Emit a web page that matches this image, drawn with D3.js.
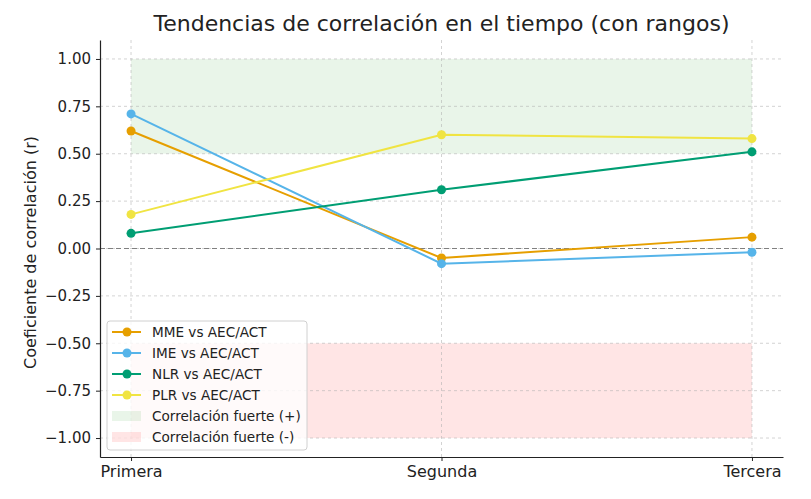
<!DOCTYPE html>
<html>
<head>
<meta charset="utf-8">
<script src="https://cdn.jsdelivr.net/npm/d3@7"></script>
<style>
  body { margin: 0; background: #fff; }
  text { font-family: "DejaVu Sans", sans-serif; }
</style>
</head>
<body>
<div id="chart"></div>
<script>
var categories = ["Primera", "Segunda", "Tercera"];
var seriesNames = ["MME vs AEC/ACT", "IME vs AEC/ACT", "NLR vs AEC/ACT", "PLR vs AEC/ACT"];
var mmeValues = [0.62, -0.05, 0.06];
var imeValues = [0.71, -0.08, -0.02];
var nlrValues = [0.08, 0.31, 0.51];
var plrValues = [0.18, 0.60, 0.58];
var yTicks = [-1.00, -0.75, -0.50, -0.25, 0.00, 0.25, 0.50, 0.75, 1.00];
var bandNames = ["Correlación fuerte (+)", "Correlación fuerte (-)"];
var bandRanges = [[0.5, 1.0], [-1.0, -0.5]];

var colors = ["#E69F00", "#56B4E9", "#009E73", "#F0E442"];
var bandColors = ["#2ca02c", "#ff0000"];
var seriesValues = [mmeValues, imeValues, nlrValues, plrValues];

var width = 811, height = 499;
var margin = { left: 100, right: 28, top: 40, bottom: 42 };

var svg = d3.select("#chart").append("svg")
    .attr("width", width)
    .attr("height", height);

var x = d3.scaleLinear()
    .domain([-0.1, 2.1])
    .range([margin.left, width - margin.right]);
var y = d3.scaleLinear()
    .domain([-1.1, 1.1])
    .range([height - margin.bottom, margin.top]);

// shaded bands
bandRanges.forEach(function (r, i) {
    svg.append("rect")
        .attr("x", x(0))
        .attr("y", y(r[1]))
        .attr("width", x(categories.length - 1) - x(0))
        .attr("height", y(r[0]) - y(r[1]))
        .attr("fill", bandColors[i])
        .attr("fill-opacity", 0.1);
});

// grid
yTicks.forEach(function (t) {
    svg.append("line")
        .attr("x1", x.range()[0]).attr("x2", x.range()[1])
        .attr("y1", y(t)).attr("y2", y(t))
        .attr("stroke", "#b0b0b0").attr("stroke-opacity", 0.7)
        .attr("stroke-width", 0.8).attr("stroke-dasharray", "3,3");
});
categories.forEach(function (c, i) {
    svg.append("line")
        .attr("x1", x(i)).attr("x2", x(i))
        .attr("y1", y.range()[0]).attr("y2", y.range()[1])
        .attr("stroke", "#b0b0b0").attr("stroke-opacity", 0.7)
        .attr("stroke-width", 0.8).attr("stroke-dasharray", "3,3");
});

// zero line
svg.append("line")
    .attr("x1", x.range()[0]).attr("x2", x.range()[1])
    .attr("y1", y(0)).attr("y2", y(0))
    .attr("stroke", "gray").attr("stroke-width", 1.2)
    .attr("stroke-dasharray", "5,3");

// series
var line = d3.line()
    .x(function (d, i) { return x(i); })
    .y(function (d) { return y(d); });

seriesValues.forEach(function (vals, s) {
    svg.append("path")
        .datum(vals)
        .attr("d", line)
        .attr("fill", "none")
        .attr("stroke", colors[s])
        .attr("stroke-width", 2);
    svg.selectAll(".pt" + s)
        .data(vals)
        .enter().append("circle")
        .attr("cx", function (d, i) { return x(i); })
        .attr("cy", function (d) { return y(d); })
        .attr("r", 4.5)
        .attr("fill", colors[s]);
});

// axes
var yAxis = d3.axisLeft(y)
    .tickValues(yTicks)
    .tickFormat(function (d) { return d3.format(".2f")(d).replace("-", "\u2212"); })
    .tickSizeInner(4).tickSizeOuter(0).tickPadding(5);
var gy = svg.append("g")
    .attr("transform", "translate(" + margin.left + ",0)")
    .call(yAxis);
gy.selectAll("text").attr("font-size", "15px").attr("fill", "#222");

var xAxis = d3.axisBottom(x)
    .tickValues(d3.range(categories.length))
    .tickFormat(function (d) { return categories[d]; })
    .tickSizeInner(4).tickSizeOuter(0).tickPadding(5);
var gx = svg.append("g")
    .attr("transform", "translate(0," + (height - margin.bottom) + ")")
    .call(xAxis);
gx.selectAll("text").attr("font-size", "16px").attr("fill", "#222");

[gx, gy].forEach(function (g) {
    g.select(".domain").attr("stroke", "#222").attr("stroke-width", 1.2);
    g.selectAll(".tick line").attr("stroke", "#222");
    g.attr("font-family", null);
});

// title and label
svg.append("text")
    .attr("x", (x.range()[0] + x.range()[1]) / 2)
    .attr("y", 31)
    .attr("text-anchor", "middle")
    .attr("font-size", "22px")
    .attr("fill", "#222")
    .text("Tendencias de correlación en el tiempo (con rangos)");

svg.append("text")
    .attr("transform", "translate(36," + (y(0) + 4) + ") rotate(-90)")
    .attr("text-anchor", "middle")
    .attr("font-size", "16px")
    .attr("fill", "#222")
    .text("Coeficiente de correlación (r)");

// legend
var lg = svg.append("g").attr("transform", "translate(107,321)");
lg.append("rect")
    .attr("width", 200).attr("height", 129)
    .attr("rx", 3)
    .attr("fill", "white").attr("fill-opacity", 0.8)
    .attr("stroke", "#d0d0d0");
var rowH = 21;
seriesNames.forEach(function (name, i) {
    var cy = 11 + i * rowH;
    lg.append("line")
        .attr("x1", 5).attr("x2", 34)
        .attr("y1", cy).attr("y2", cy)
        .attr("stroke", colors[i]).attr("stroke-width", 2);
    lg.append("circle")
        .attr("cx", 20).attr("cy", cy).attr("r", 4.5)
        .attr("fill", colors[i]);
    lg.append("text")
        .attr("x", 45).attr("y", cy + 5)
        .attr("font-size", "13.6px").attr("fill", "#222")
        .text(name);
});
bandNames.forEach(function (name, i) {
    var cy = 11 + (seriesNames.length + i) * rowH;
    lg.append("rect")
        .attr("x", 5).attr("y", cy - 5)
        .attr("width", 29).attr("height", 10)
        .attr("fill", bandColors[i]).attr("fill-opacity", 0.1);
    lg.append("text")
        .attr("x", 45).attr("y", cy + 5)
        .attr("font-size", "13.6px").attr("fill", "#222")
        .text(name);
});
</script>
</body>
</html>
